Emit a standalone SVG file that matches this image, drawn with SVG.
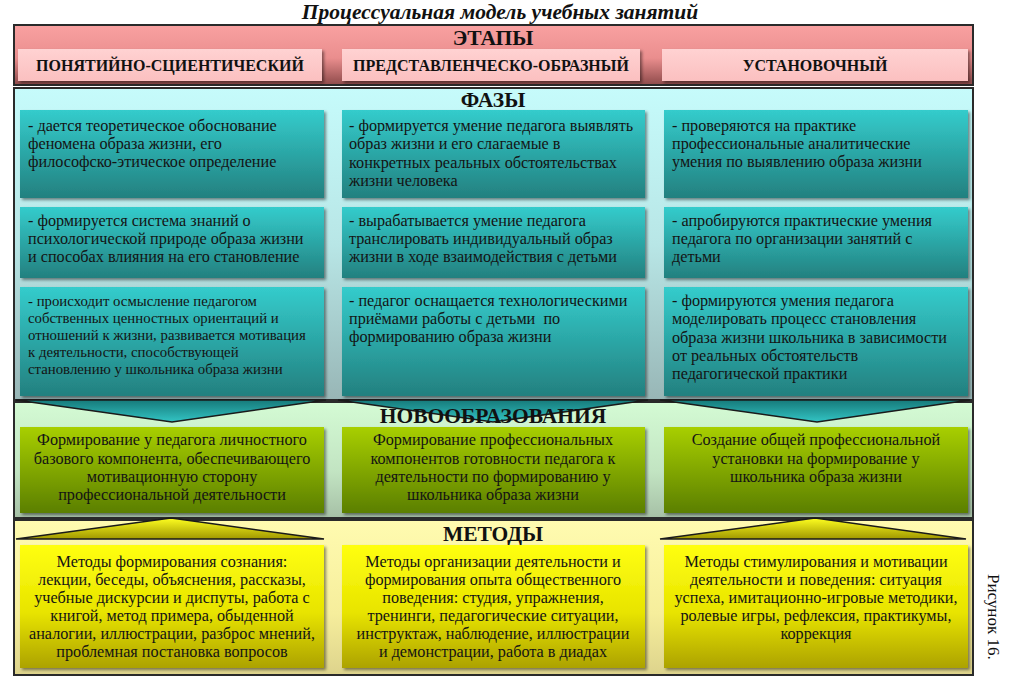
<svg xmlns="http://www.w3.org/2000/svg" width="1012" height="682" viewBox="0 0 1012 682">
<defs>
<linearGradient id="gPinkBand" x1="0" y1="0" x2="0" y2="1"><stop offset="0" stop-color="#f9a1a1"/><stop offset="0.55" stop-color="#ea8e8e"/><stop offset="1" stop-color="#8e4a4a"/></linearGradient>
<linearGradient id="gPinkBox" x1="0" y1="0" x2="0" y2="1"><stop offset="0" stop-color="#ffd2d2"/><stop offset="1" stop-color="#fbc0c0"/></linearGradient>
<linearGradient id="gCyanBand" x1="0" y1="0" x2="0" y2="1"><stop offset="0" stop-color="#c6fbfb"/><stop offset="0.5" stop-color="#b8e6e6"/><stop offset="1" stop-color="#98b6b6"/></linearGradient>
<linearGradient id="gTeal" x1="0" y1="0" x2="0" y2="1"><stop offset="0" stop-color="#34cccc"/><stop offset="1" stop-color="#23807f"/></linearGradient>
<linearGradient id="gGreenBand" x1="0" y1="0" x2="0" y2="1"><stop offset="0" stop-color="#d4fbd4"/><stop offset="0.6" stop-color="#c2e4c2"/><stop offset="1" stop-color="#a6c0a6"/></linearGradient>
<linearGradient id="gGreen" x1="0" y1="0" x2="0" y2="1"><stop offset="0" stop-color="#a8cf04"/><stop offset="1" stop-color="#5b7f02"/></linearGradient>
<linearGradient id="gYellowBand" x1="0" y1="0" x2="0" y2="1"><stop offset="0" stop-color="#fffbb0"/><stop offset="0.6" stop-color="#f6ee9c"/><stop offset="1" stop-color="#ddd38c"/></linearGradient>
<linearGradient id="gYellow" x1="0" y1="0" x2="0" y2="1"><stop offset="0" stop-color="#ffff10"/><stop offset="0.55" stop-color="#e8e400"/><stop offset="1" stop-color="#aca200"/></linearGradient>
<linearGradient id="gDown" x1="0" y1="0" x2="0" y2="1"><stop offset="0" stop-color="#167a7a"/><stop offset="1" stop-color="#33c4c4"/></linearGradient>
<linearGradient id="gUp" x1="0" y1="0" x2="0" y2="1"><stop offset="0" stop-color="#ffff20"/><stop offset="1" stop-color="#a09800"/></linearGradient>
<filter id="sh" x="-5%" y="-5%" width="112%" height="120%"><feDropShadow dx="2" dy="2" stdDeviation="1.5" flood-color="#000" flood-opacity="0.45"/></filter>
</defs>
<style>
text{font-family:"Liberation Serif","DejaVu Serif",serif}
.band{stroke:#2a2a2a;stroke-width:2}
.hdr{font-weight:bold;font-size:21.5px;fill:#111;text-anchor:middle}
.stg{font-weight:bold;font-size:16px;fill:#111;text-anchor:middle}
.t{font-size:16.2px;fill:#141414;white-space:pre}
.ts{font-size:14.8px;fill:#141414}
.c{font-size:16.2px;fill:#141414;text-anchor:middle}
.arr{stroke:#1a1a1a;stroke-width:1.5}
</style>
<rect width="1012" height="682" fill="#ffffff"/>
<text x="500" y="19" font-style="italic" font-weight="bold" font-size="21.5" fill="#111" text-anchor="middle">Процессуальная модель учебных занятий</text>

<g id="band-stages">
<rect class="band" x="14" y="25" width="959" height="60" fill="url(#gPinkBand)"/>
<text class="hdr" x="493" y="45">ЭТАПЫ</text>
</g>
<g id="stage-1"><rect x="18" y="49" width="304" height="32" fill="url(#gPinkBox)" filter="url(#sh)"/><text class="stg" x="170" y="71">ПОНЯТИЙНО-СЦИЕНТИЧЕСКИЙ</text></g>
<g id="stage-2"><rect x="342" y="49" width="298" height="32" fill="url(#gPinkBox)" filter="url(#sh)"/><text class="stg" x="491" y="71">ПРЕДСТАВЛЕНЧЕСКО-ОБРАЗНЫЙ</text></g>
<g id="stage-3"><rect x="662" y="49" width="306" height="32" fill="url(#gPinkBox)" filter="url(#sh)"/><text class="stg" x="815" y="71">УСТАНОВОЧНЫЙ</text></g>

<g id="band-phases">
<rect class="band" x="14" y="88" width="959" height="312" fill="url(#gCyanBand)"/>
<text class="hdr" x="493" y="107">ФАЗЫ</text>
</g>
<g id="phase-1-1"><rect x="20" y="110" width="304" height="88" fill="url(#gTeal)" filter="url(#sh)"/>
<text class="t"><tspan x="28" y="131">- дается теоретическое обоснование</tspan><tspan x="28" y="149">феномена образа жизни, его</tspan><tspan x="28" y="167">философско-этическое определение</tspan></text></g>
<g id="phase-2-1"><rect x="342" y="110" width="303" height="88" fill="url(#gTeal)" filter="url(#sh)"/>
<text class="t"><tspan x="349" y="131">- формируется умение педагога выявлять</tspan><tspan x="349" y="149">образ жизни и его слагаемые в</tspan><tspan x="349" y="168">конкретных реальных обстоятельствах</tspan><tspan x="349" y="186">жизни человека</tspan></text></g>
<g id="phase-3-1"><rect x="664" y="110" width="304" height="88" fill="url(#gTeal)" filter="url(#sh)"/>
<text class="t"><tspan x="672" y="131">- проверяются на практике</tspan><tspan x="672" y="149">профессиональные аналитические</tspan><tspan x="672" y="167">умения по выявлению образа жизни</tspan></text></g>

<g id="phase-1-2"><rect x="20" y="207" width="304" height="71" fill="url(#gTeal)" filter="url(#sh)"/>
<text class="t"><tspan x="28" y="226">- формируется система знаний о</tspan><tspan x="28" y="244">психологической природе образа жизни</tspan><tspan x="28" y="262">и способах влияния на его становление</tspan></text></g>
<g id="phase-2-2"><rect x="342" y="207" width="303" height="71" fill="url(#gTeal)" filter="url(#sh)"/>
<text class="t"><tspan x="349" y="226">- вырабатывается умение педагога</tspan><tspan x="349" y="244">транслировать индивидуальный образ</tspan><tspan x="349" y="262">жизни в ходе взаимодействия с детьми</tspan></text></g>
<g id="phase-3-2"><rect x="664" y="207" width="304" height="71" fill="url(#gTeal)" filter="url(#sh)"/>
<text class="t"><tspan x="672" y="226">- апробируются практические умения</tspan><tspan x="672" y="244">педагога по организации занятий с</tspan><tspan x="672" y="262">детьми</tspan></text></g>

<g id="phase-1-3"><rect x="20" y="287" width="304" height="109" fill="url(#gTeal)" filter="url(#sh)"/>
<text class="ts"><tspan x="28" y="306">- происходит осмысление педагогом</tspan><tspan x="28" y="323">собственных ценностных ориентаций и</tspan><tspan x="28" y="340">отношений к жизни, развивается мотивация</tspan><tspan x="28" y="357">к деятельности, способствующей</tspan><tspan x="28" y="374">становлению у школьника образа жизни</tspan></text></g>
<g id="phase-2-3"><rect x="342" y="287" width="303" height="109" fill="url(#gTeal)" filter="url(#sh)"/>
<text class="t"><tspan x="349" y="306">- педагог оснащается технологическими</tspan><tspan x="349" y="324">приёмами работы с детьми  по</tspan><tspan x="349" y="342">формированию образа жизни</tspan></text></g>
<g id="phase-3-3"><rect x="664" y="287" width="304" height="109" fill="url(#gTeal)" filter="url(#sh)"/>
<text class="t"><tspan x="672" y="306">- формируются умения педагога</tspan><tspan x="672" y="324">моделировать процесс становления</tspan><tspan x="672" y="343">образа жизни школьника в зависимости</tspan><tspan x="672" y="361">от реальных обстоятельств</tspan><tspan x="672" y="379">педагогической практики</tspan></text></g>

<g id="band-outcomes">
<rect class="band" x="14" y="402" width="959" height="116" fill="url(#gGreenBand)"/>
</g>

<g id="band-methods">
<rect class="band" x="14" y="520" width="959" height="155" fill="url(#gYellowBand)"/>
</g>

<g id="connectors">
<path class="arr" d="M16 400 L326 400 L172 422 Z" fill="url(#gDown)"/>
<path class="arr" d="M338 400 L648 400 L493 422 Z" fill="url(#gDown)"/>
<path class="arr" d="M660 400 L970 400 L817 422 Z" fill="url(#gDown)"/>
<path class="arr" d="M16 539 L324 539 L171 518 Z" fill="url(#gUp)"/>
<path class="arr" d="M660 539 L966 539 L815 518 Z" fill="url(#gUp)"/>
</g>

<text class="hdr" x="493" y="423">НОВООБРАЗОВАНИЯ</text>
<g id="outcome-1"><rect x="20" y="427" width="304" height="86" fill="url(#gGreen)" filter="url(#sh)"/>
<text class="c"><tspan x="172" y="445">Формирование у педагога личностного</tspan><tspan x="172" y="464">базового компонента, обеспечивающего</tspan><tspan x="172" y="482">мотивационную сторону</tspan><tspan x="172" y="500">профессиональной деятельности</tspan></text></g>
<g id="outcome-2"><rect x="342" y="427" width="303" height="86" fill="url(#gGreen)" filter="url(#sh)"/>
<text class="c"><tspan x="493" y="445">Формирование профессиональных</tspan><tspan x="493" y="464">компонентов готовности педагога к</tspan><tspan x="493" y="482">деятельности по формированию у</tspan><tspan x="493" y="500">школьника образа жизни</tspan></text></g>
<g id="outcome-3"><rect x="664" y="427" width="304" height="86" fill="url(#gGreen)" filter="url(#sh)"/>
<text class="c"><tspan x="816" y="445">Создание общей профессиональной</tspan><tspan x="816" y="464">установки на формирование у</tspan><tspan x="816" y="482">школьника образа жизни</tspan></text></g>

<text class="hdr" x="493" y="541">МЕТОДЫ</text>
<g id="method-1"><rect x="20" y="545" width="304" height="123" fill="url(#gYellow)" filter="url(#sh)"/>
<text class="c"><tspan x="172" y="567">Методы формирования сознания:</tspan><tspan x="172" y="585">лекции, беседы, объяснения, рассказы,</tspan><tspan x="172" y="603">учебные дискурсии и диспуты, работа с</tspan><tspan x="172" y="621">книгой, метод примера, обыденной</tspan><tspan x="172" y="639">аналогии, иллюстрации, разброс мнений,</tspan><tspan x="172" y="657">проблемная постановка вопросов</tspan></text></g>
<g id="method-2"><rect x="342" y="545" width="303" height="123" fill="url(#gYellow)" filter="url(#sh)"/>
<text class="c"><tspan x="493" y="567">Методы организации деятельности и</tspan><tspan x="493" y="585">формирования опыта общественного</tspan><tspan x="493" y="603">поведения: студия, упражнения,</tspan><tspan x="493" y="621">тренинги, педагогические ситуации,</tspan><tspan x="493" y="639">инструктаж, наблюдение, иллюстрации</tspan><tspan x="493" y="657">и демонстрации, работа в диадах</tspan></text></g>
<g id="method-3"><rect x="664" y="545" width="304" height="123" fill="url(#gYellow)" filter="url(#sh)"/>
<text class="c"><tspan x="816" y="567">Методы стимулирования и мотивации</tspan><tspan x="816" y="585">деятельности и поведения: ситуация</tspan><tspan x="816" y="603">успеха, имитационно-игровые методики,</tspan><tspan x="816" y="621">ролевые игры, рефлексия, практикумы,</tspan><tspan x="816" y="639">коррекция</tspan></text></g>

<text x="988" y="574" transform="rotate(90 988 574)" font-size="17" fill="#111">Рисунок 16.</text>
</svg>
